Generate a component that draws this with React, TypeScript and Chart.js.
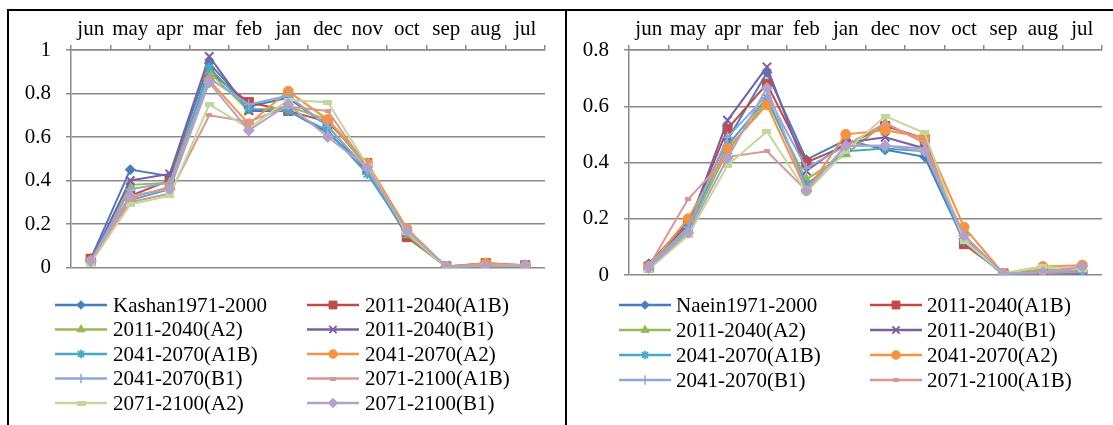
import React, { useEffect, useRef } from 'react';
import { Chart, registerables } from 'chart.js';
import { drawPoint } from 'chart.js/helpers';

Chart.register(...registerables);

// ---------- DATA ----------
const months = ['jun', 'may', 'apr', 'mar', 'feb', 'jan', 'dec', 'nov', 'oct', 'sep', 'aug', 'jul'];

const kashanLabels = [
  'Kashan1971-2000', '2011-2040(A1B)', '2011-2040(A2)', '2011-2040(B1)', '2041-2070(A1B)',
  '2041-2070(A2)', '2041-2070(B1)', '2071-2100(A1B)', '2071-2100(A2)', '2071-2100(B1)',
];
const naeinLabels = [
  'Naein1971-2000', '2011-2040(A1B)', '2011-2040(A2)', '2011-2040(B1)', '2041-2070(A1B)',
  '2041-2070(A2)', '2041-2070(B1)', '2071-2100(A1B)', '2071-2100(A2)', '2071-2100(B1)',
];

// Kashan
const kObs = [0.04, 0.45, 0.42, 0.94, 0.74, 0.78, 0.65, 0.44, 0.15, 0.005, 0.01, 0.01];
const k2011A1B = [0.04, 0.33, 0.40, 0.90, 0.76, 0.72, 0.67, 0.48, 0.14, 0.005, 0.02, 0.01];
const k2011A2 = [0.02, 0.38, 0.39, 0.90, 0.72, 0.74, 0.68, 0.46, 0.15, 0.0, 0.01, 0.01];
const k2011B1 = [0.03, 0.40, 0.43, 0.97, 0.72, 0.72, 0.62, 0.45, 0.16, 0.005, 0.01, 0.01];
const k2041A1B = [0.03, 0.31, 0.36, 0.92, 0.73, 0.72, 0.63, 0.43, 0.16, 0.0, 0.01, 0.01];
const k2041A2 = [0.03, 0.32, 0.37, 0.86, 0.66, 0.81, 0.68, 0.48, 0.18, 0.005, 0.02, 0.01];
const k2041B1 = [0.03, 0.36, 0.39, 0.87, 0.75, 0.79, 0.65, 0.45, 0.17, 0.005, 0.01, 0.01];
const k2071A1B = [0.03, 0.30, 0.34, 0.70, 0.67, 0.74, 0.72, 0.46, 0.17, 0.005, 0.01, 0.01];
const k2071A2 = [0.02, 0.29, 0.33, 0.75, 0.64, 0.77, 0.76, 0.47, 0.16, 0.0, 0.01, 0.01];
const k2071B1 = [0.03, 0.33, 0.36, 0.85, 0.63, 0.75, 0.60, 0.46, 0.17, 0.005, 0.01, 0.01];

// Naein
const nObs = [0.04, 0.19, 0.48, 0.72, 0.41, 0.48, 0.445, 0.42, 0.12, 0.005, 0.01, 0.01];
const n2011A1B = [0.03, 0.18, 0.52, 0.68, 0.40, 0.46, 0.53, 0.485, 0.11, 0.005, 0.01, 0.005];
const n2011A2 = [0.02, 0.16, 0.44, 0.62, 0.34, 0.43, 0.54, 0.47, 0.13, 0.005, 0.02, 0.02];
const n2011B1 = [0.03, 0.17, 0.55, 0.74, 0.37, 0.47, 0.49, 0.45, 0.14, 0.005, 0.01, 0.02];
const n2041A1B = [0.03, 0.17, 0.46, 0.63, 0.32, 0.44, 0.45, 0.44, 0.12, 0.0, 0.01, 0.01];
const n2041A2 = [0.03, 0.20, 0.45, 0.605, 0.30, 0.50, 0.515, 0.49, 0.17, 0.005, 0.03, 0.035];
const n2041B1 = [0.03, 0.17, 0.49, 0.64, 0.38, 0.46, 0.46, 0.45, 0.13, 0.005, 0.01, 0.01];
const n2071A1B = [0.03, 0.27, 0.42, 0.44, 0.30, 0.46, 0.54, 0.47, 0.13, 0.005, 0.01, 0.02];
const n2071A2 = [0.02, 0.14, 0.39, 0.51, 0.295, 0.44, 0.565, 0.505, 0.12, 0.005, 0.03, 0.02];
const n2071B1 = [0.025, 0.15, 0.415, 0.665, 0.30, 0.46, 0.46, 0.44, 0.14, 0.005, 0.01, 0.03];

const kashanSeries = [kObs, k2011A1B, k2011A2, k2011B1, k2041A1B, k2041A2, k2041B1, k2071A1B, k2071A2, k2071B1];
const naeinSeries = [nObs, n2011A1B, n2011A2, n2011B1, n2041A1B, n2041A2, n2041B1, n2071A1B, n2071A2, n2071B1];

const kashanYTicks = [0, 0.2, 0.4, 0.6, 0.8, 1];
const naeinYTicks = [0, 0.2, 0.4, 0.6, 0.8];

// ---------- STYLES ----------
const FONT = "'Liberation Serif', 'Times New Roman', serif";
const GRID = '#8a8a8a';
const colors = ['#4A7EBB', '#BE4B48', '#98B954', '#7D60A0', '#46AAC5', '#F69240', '#8EA8D8', '#D99694', '#C3D69B', '#B3A2C7'];

function dashMarker(color: string, w: number, h: number) {
  const c = document.createElement('canvas');
  c.width = w;
  c.height = h;
  const g = c.getContext('2d')!;
  g.fillStyle = color;
  g.fillRect(0, 0, w, h);
  return c;
}

function markerStyles() {
  return [
    { style: 'rectRot', r: 5, bw: 1 },
    { style: 'rect', r: 6.5, bw: 1 },
    { style: 'triangle', r: 5.5, bw: 1 },
    { style: 'crossRot', r: 6, bw: 2 },
    { style: 'star', r: 5, bw: 1.8 },
    { style: 'circle', r: 5, bw: 1 },
    { style: 'cross', r: 5.5, bw: 1.5 },
    { style: dashMarker(colors[7], 6, 4), r: 4, bw: 0 },
    { style: dashMarker(colors[8], 9, 5), r: 5, bw: 0 },
    { style: 'rectRot', r: 5.5, bw: 1 },
  ] as any[];
}

const cellLegend = {
  id: 'cellLegend',
  afterDraw(chart: any, _args: any, opts: any) {
    const ctx = chart.ctx as CanvasRenderingContext2D;
    const { cols, rows, count, lineLen, gap } = opts;
    chart.data.datasets.slice(0, count).forEach((ds: any, i: number) => {
      const x0 = cols[i % 2];
      const y = rows[Math.floor(i / 2)];
      ctx.save();
      ctx.strokeStyle = ds.borderColor;
      ctx.lineWidth = 2.5;
      ctx.beginPath();
      ctx.moveTo(x0, y);
      ctx.lineTo(x0 + lineLen, y);
      ctx.stroke();
      ctx.fillStyle = ds.pointBackgroundColor;
      ctx.strokeStyle = ds.pointBorderColor;
      ctx.lineWidth = ds.pointBorderWidth;
      drawPoint(ctx, {
        pointStyle: ds.pointStyle,
        rotation: 0,
        radius: ds.pointRadius * 0.85,
        borderWidth: ds.pointBorderWidth,
      } as any, x0 + lineLen / 2, y);
      ctx.fillStyle = '#000';
      ctx.font = `21px ${FONT}`;
      ctx.textBaseline = 'middle';
      ctx.textAlign = 'left';
      ctx.fillText(ds.label, x0 + lineLen + gap, y + 1);
      ctx.restore();
    });
  },
};

type Cfg = {
  labels: string[];
  series: number[][];
  yTicks: number[];
  width: number;
  yAxisWidth: number;
  padRight: number;
  padBottom: number;
  legend: { cols: number[]; rows: number[]; count: number; lineLen: number; gap: number };
};

function LineCell({ cfg, left }: { cfg: Cfg; left: number }) {
  const ref = useRef<HTMLCanvasElement>(null);
  useEffect(() => {
    const ms = markerStyles();
    const yMax = cfg.yTicks[cfg.yTicks.length - 1];
    const chart = new Chart(ref.current!, {
      type: 'line',
      data: {
        labels: months,
        datasets: cfg.series.map((data, i) => ({
          label: cfg.labels[i],
          data,
          borderColor: colors[i],
          backgroundColor: colors[i],
          pointBackgroundColor: colors[i],
          pointBorderColor: colors[i],
          pointStyle: ms[i].style,
          pointRadius: ms[i].r,
          pointBorderWidth: ms[i].bw,
          borderWidth: 2,
          tension: 0,
          fill: false,
          order: 10 - i,
        })),
      },
      options: {
        animation: false,
        responsive: false,
        events: [],
        layout: { padding: { left: 0, top: 0, right: cfg.padRight, bottom: cfg.padBottom } },
        plugins: {
          legend: { display: false },
          tooltip: { enabled: false },
          cellLegend: cfg.legend,
        } as any,
        scales: {
          x: {
            type: 'category',
            position: 'top',
            offset: true,
            grid: { offset: true, drawOnChartArea: false, drawTicks: true, tickLength: 5, color: GRID, lineWidth: 1.5 },
            border: { display: true, color: GRID, width: 1.5 },
            ticks: { color: '#000', font: { size: 21, family: FONT }, padding: 3, maxRotation: 0, autoSkip: false },
            afterFit: (s: any) => { s.height = 50; },
          },
          y: {
            min: 0,
            max: yMax,
            afterBuildTicks: (s: any) => { s.ticks = cfg.yTicks.map((v) => ({ value: v })); },
            ticks: {
              color: '#000',
              font: { size: 21, family: FONT },
              padding: 15,
              callback: (v: any) => String(Math.round(Number(v) * 10) / 10),
            },
            grid: { color: GRID, lineWidth: 1.5, tickLength: 5, drawTicks: true },
            border: { display: true, color: GRID, width: 1.5 },
            afterFit: (s: any) => { s.width = cfg.yAxisWidth; },
          },
        },
      },
      plugins: [cellLegend as any],
    });
    return () => chart.destroy();
  }, []);
  return (
    <canvas
      ref={ref}
      width={cfg.width}
      height={425}
      style={{ position: 'absolute', left, top: 0, width: cfg.width, height: 425, display: 'block' }}
    />
  );
}

const leftCfg: Cfg = {
  labels: kashanLabels,
  series: kashanSeries,
  yTicks: kashanYTicks,
  width: 565,
  yAxisWidth: 71,
  padRight: 20,
  padBottom: 157.5,
  legend: { cols: [55, 307], rows: [305, 329.5, 354, 378.5, 403], count: 10, lineLen: 52, gap: 6 },
};

const rightCfg: Cfg = {
  labels: naeinLabels,
  series: naeinSeries,
  yTicks: naeinYTicks,
  width: 546,
  yAxisWidth: 62,
  padRight: 11,
  padBottom: 150,
  legend: { cols: [619 - 567, 870 - 567], rows: [305, 330, 355, 380], count: 8, lineLen: 52, gap: 5 },
};

export default function App() {
  return (
    <div style={{ position: 'absolute', left: 0, top: 0, width: 1113, height: 425, background: '#fff', overflow: 'hidden' }}>
      <LineCell cfg={leftCfg} left={0} />
      <LineCell cfg={rightCfg} left={567} />
      <div style={{ position: 'absolute', left: 7, top: 9, width: 1106, height: 2, background: '#000' }} />
      <div style={{ position: 'absolute', left: 7, top: 9, width: 2, height: 416, background: '#000' }} />
      <div style={{ position: 'absolute', left: 565, top: 9, width: 2, height: 416, background: '#000' }} />
    </div>
  );
}
